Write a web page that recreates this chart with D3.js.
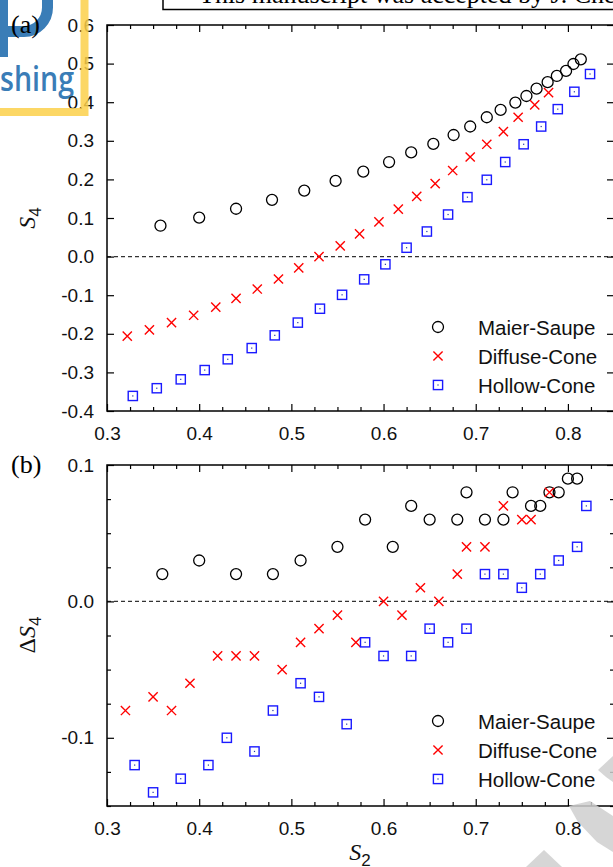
<!DOCTYPE html>
<html>
<head>
<meta charset="utf-8">
<script src="https://cdn.jsdelivr.net/npm/d3@7"></script>
<style>
  html, body { margin: 0; padding: 0; background: #fff; }
  svg { display: block; }
</style>
</head>
<body>
<div id="chart"></div>
<script>
// ---------- data ----------
// Panel (a): order parameter S4 versus S2 for three distribution models
const msA_S2 = [0.358, 0.400, 0.440, 0.479, 0.514, 0.548, 0.578, 0.606, 0.630, 0.654, 0.676, 0.694, 0.712, 0.727, 0.743, 0.755, 0.766, 0.778, 0.788, 0.798, 0.806, 0.814];
const msA_S4 = [0.080, 0.101, 0.124, 0.147, 0.171, 0.196, 0.220, 0.245, 0.270, 0.292, 0.315, 0.337, 0.361, 0.380, 0.399, 0.416, 0.435, 0.452, 0.468, 0.481, 0.499, 0.511];

const dcA_S2 = [0.322, 0.346, 0.370, 0.394, 0.418, 0.440, 0.463, 0.486, 0.508, 0.530, 0.553, 0.574, 0.595, 0.616, 0.636, 0.656, 0.675, 0.694, 0.712, 0.730, 0.746, 0.764, 0.779];
const dcA_S4 = [-0.206, -0.190, -0.171, -0.152, -0.131, -0.108, -0.084, -0.058, -0.029, 0.000, 0.028, 0.059, 0.090, 0.123, 0.156, 0.189, 0.223, 0.258, 0.291, 0.324, 0.361, 0.393, 0.425];

const hcA_S2 = [0.328, 0.354, 0.380, 0.406, 0.431, 0.457, 0.482, 0.507, 0.531, 0.555, 0.579, 0.602, 0.625, 0.647, 0.670, 0.691, 0.712, 0.732, 0.752, 0.771, 0.789, 0.807, 0.824];
const hcA_S4 = [-0.361, -0.341, -0.318, -0.294, -0.266, -0.237, -0.204, -0.171, -0.135, -0.099, -0.059, -0.020, 0.023, 0.065, 0.109, 0.154, 0.199, 0.245, 0.291, 0.337, 0.382, 0.427, 0.473];

// Panel (b): deviation ΔS4 versus S2
const msB_S2 = [0.36, 0.40, 0.44, 0.48, 0.51, 0.55, 0.58, 0.61, 0.63, 0.65, 0.68, 0.69, 0.71, 0.73, 0.74, 0.76, 0.77, 0.78, 0.79, 0.80, 0.81];
const msB_dS4 = [0.02, 0.03, 0.02, 0.02, 0.03, 0.04, 0.06, 0.04, 0.07, 0.06, 0.06, 0.08, 0.06, 0.06, 0.08, 0.07, 0.07, 0.08, 0.08, 0.09, 0.09];

const dcB_S2 = [0.32, 0.35, 0.37, 0.39, 0.42, 0.44, 0.46, 0.49, 0.51, 0.53, 0.55, 0.57, 0.60, 0.62, 0.64, 0.66, 0.68, 0.69, 0.71, 0.73, 0.75, 0.76, 0.78];
const dcB_dS4 = [-0.08, -0.07, -0.08, -0.06, -0.04, -0.04, -0.04, -0.05, -0.03, -0.02, -0.01, -0.03, 0.00, -0.01, 0.01, 0.00, 0.02, 0.04, 0.04, 0.07, 0.06, 0.06, 0.08];

const hcB_S2 = [0.33, 0.35, 0.38, 0.41, 0.43, 0.46, 0.48, 0.51, 0.53, 0.56, 0.58, 0.60, 0.63, 0.65, 0.67, 0.69, 0.71, 0.73, 0.75, 0.77, 0.79, 0.81, 0.82];
const hcB_dS4 = [-0.12, -0.14, -0.13, -0.12, -0.10, -0.11, -0.08, -0.06, -0.07, -0.09, -0.03, -0.04, -0.04, -0.02, -0.03, -0.02, 0.02, 0.02, 0.01, 0.02, 0.03, 0.04, 0.07];

const seriesNames = ["Maier-Saupe", "Diffuse-Cone", "Hollow-Cone"];

const xTicks = [0.3, 0.4, 0.5, 0.6, 0.7, 0.8];
const yTicksA = [-0.4, -0.3, -0.2, -0.1, 0.0, 0.1, 0.2, 0.3, 0.4, 0.5, 0.6];
const yTicksB = [-0.1, 0.0, 0.1];

// ---------- setup ----------
const W = 613, H = 867;
const svg = d3.select("#chart").append("svg").attr("width", W).attr("height", H);
const SANS = "'Liberation Sans', Arial, Helvetica, sans-serif";
const SERIF = "'Liberation Serif', 'Times New Roman', serif";

const x = d3.scaleLinear().domain([0.3, 0.85]).range([107, 614]);
const yA = d3.scaleLinear().domain([-0.4, 0.6]).range([411, 25]);
const yB = d3.scaleLinear().domain([-0.15, 0.1]).range([806, 465]);

const xMinor = d3.range(0, 23).map(i => +(0.3 + i * 0.025).toFixed(3)).filter(v => !xTicks.some(t => Math.abs(t - v) < 1e-6));
const yMinorB = d3.range(0, 11).map(i => +(-0.15 + i * 0.025).toFixed(3)).filter(v => !yTicksB.some(t => Math.abs(t - v) < 1e-6));

const fmt = d => (Math.abs(d) < 1e-9 ? 0 : d).toFixed(1);

function styleAxis(g) {
  g.select(".domain").remove();
  g.selectAll(".tick line").attr("stroke", "#000").attr("stroke-width", 1.2);
  g.selectAll(".tick text").attr("font-family", SANS).attr("font-size", 19).attr("fill", "#111");
}

function drawPanel(y, yTicks, yMinor, data) {
  const [x0, x1] = x.range();
  const [yb, yt] = y.range();
  const g = svg.append("g");

  // zero reference line
  g.append("line")
    .attr("x1", x0).attr("x2", x1).attr("y1", y(0)).attr("y2", y(0))
    .attr("stroke", "#333").attr("stroke-width", 1.1).attr("stroke-dasharray", "4,3");

  // axes with inward ticks
  g.append("g").attr("transform", `translate(0,${yb})`)
    .call(d3.axisBottom(x).tickValues(xTicks).tickSize(-7).tickPadding(15.5).tickFormat(fmt)).call(styleAxis);
  g.append("g").attr("transform", `translate(0,${yb})`)
    .call(d3.axisBottom(x).tickValues(xMinor).tickSize(-4).tickFormat("")).call(styleAxis);
  g.append("g").attr("transform", `translate(0,${yt})`)
    .call(d3.axisTop(x).tickValues(xTicks).tickSize(-7).tickFormat("")).call(styleAxis);
  g.append("g").attr("transform", `translate(0,${yt})`)
    .call(d3.axisTop(x).tickValues(xMinor).tickSize(-4).tickFormat("")).call(styleAxis);

  g.append("g").attr("transform", `translate(${x0},0)`)
    .call(d3.axisLeft(y).tickValues(yTicks).tickSize(-7).tickPadding(13).tickFormat(fmt)).call(styleAxis);
  g.append("g").attr("transform", `translate(${x1},0)`)
    .call(d3.axisRight(y).tickValues(yTicks).tickSize(-7).tickFormat("")).call(styleAxis);
  if (yMinor.length) {
    g.append("g").attr("transform", `translate(${x0},0)`)
      .call(d3.axisLeft(y).tickValues(yMinor).tickSize(-4).tickFormat("")).call(styleAxis);
    g.append("g").attr("transform", `translate(${x1},0)`)
      .call(d3.axisRight(y).tickValues(yMinor).tickSize(-4).tickFormat("")).call(styleAxis);
  }

  // frame
  g.append("rect").attr("x", x0).attr("y", yt).attr("width", x1 - x0).attr("height", yb - yt)
    .attr("fill", "none").attr("stroke", "#000").attr("stroke-width", 1.5);

  // markers
  const [ms, dc, hc] = data;
  g.append("g").selectAll("circle").data(d3.zip(ms[0], ms[1])).join("circle")
    .attr("cx", d => x(d[0])).attr("cy", d => y(d[1])).attr("r", 5.5)
    .attr("fill", "none").attr("stroke", "#000").attr("stroke-width", 1.3);
  g.append("g").selectAll("path").data(d3.zip(dc[0], dc[1])).join("path")
    .attr("d", d => crossPath(x(d[0]), y(d[1])))
    .attr("fill", "none").attr("stroke", "#ff0000").attr("stroke-width", 1.4);
  const sq = g.append("g").selectAll("g").data(d3.zip(hc[0], hc[1])).join("g")
    .attr("transform", d => `translate(${x(d[0])},${y(d[1])})`);
  drawSquare(sq);
  return g;
}

function crossPath(cx, cy) {
  const s = 4.6;
  return `M${cx - s},${cy - s}L${cx + s},${cy + s}M${cx - s},${cy + s}L${cx + s},${cy - s}`;
}
function drawSquare(sel) {
  sel.append("rect").attr("x", -4.6).attr("y", -4.6).attr("width", 9.2).attr("height", 9.2)
    .attr("fill", "none").attr("stroke", "#1a1aff").attr("stroke-width", 1.4);
  sel.append("rect").attr("x", -0.6).attr("y", -0.6).attr("width", 1.2).attr("height", 1.2)
    .attr("fill", "#2233aa");
}

function drawLegend(x0, ys) {
  const g = svg.append("g");
  g.append("circle").attr("cx", x0).attr("cy", ys[0]).attr("r", 5.5)
    .attr("fill", "none").attr("stroke", "#000").attr("stroke-width", 1.3);
  g.append("path").attr("d", crossPath(x0, ys[1]))
    .attr("fill", "none").attr("stroke", "#ff0000").attr("stroke-width", 1.4);
  drawSquare(g.append("g").attr("transform", `translate(${x0},${ys[2]})`));
  seriesNames.forEach((n, i) => {
    g.append("text").attr("x", x0 + 40).attr("y", ys[i] + 7.5)
      .attr("font-family", SANS).attr("font-size", 20.5).attr("fill", "#111").text(n);
  });
}

// ---------- header remnants ----------
svg.append("rect").attr("x", 163).attr("y", -40).attr("width", 480).attr("height", 49.5)
  .attr("fill", "none").attr("stroke", "#000").attr("stroke-width", 1.5);
svg.append("text").attr("x", 199).attr("y", 2.5)
  .attr("font-family", SERIF).attr("font-size", 26).attr("fill", "#000")
  .text("This manuscript was accepted by J. Chem. Phys.");

// publisher logo fragment
const logo = svg.append("g");
const logoBlue = "#3a7db7";
logo.append("rect").attr("x", -6).attr("y", -10).attr("width", 14).attr("height", 67).attr("fill", logoBlue);
logo.append("path").attr("d", "M8,31.5 H24 A 24 24 0 0 0 47.5,7.5 V -10")
  .attr("fill", "none").attr("stroke", logoBlue).attr("stroke-width", 11);
logo.append("text").attr("x", 0).attr("y", 91)
  .attr("font-family", "'Open Sans', 'Noto Sans', sans-serif").attr("font-size", 35)
  .attr("font-weight", 600).attr("fill", logoBlue)
  .attr("textLength", 74).attr("lengthAdjust", "spacingAndGlyphs").text("shing");

// ---------- panels ----------
drawPanel(yA, yTicksA, [], [[msA_S2, msA_S4], [dcA_S2, dcA_S4], [hcA_S2, hcA_S4]]);
drawPanel(yB, yTicksB, yMinorB, [[msB_S2, msB_dS4], [dcB_S2, dcB_dS4], [hcB_S2, hcB_dS4]]);

drawLegend(438, [327, 356, 385]);
drawLegend(438, [721, 750, 779]);

// panel tags
svg.append("text").attr("x", 11).attr("y", 33).attr("font-family", SERIF).attr("font-size", 26).text("(a)");
svg.append("text").attr("x", 11).attr("y", 473).attr("font-family", SERIF).attr("font-size", 26).text("(b)");

// axis titles
function yTitle(cx, cy, delta) {
  const t = svg.append("text").attr("transform", `translate(${cx},${cy}) rotate(-90)`)
    .attr("text-anchor", "middle").attr("font-family", SERIF).attr("font-size", 24).attr("fill", "#111");
  if (delta) t.append("tspan").attr("font-style", "normal").text("Δ");
  t.append("tspan").attr("font-style", "italic").text("S");
  t.append("tspan").attr("font-family", SANS).attr("font-size", 17).attr("dy", 6).text("4");
}
yTitle(35, 218, false);
yTitle(35, 635, true);

const xt = svg.append("text").attr("x", 360).attr("y", 860).attr("text-anchor", "middle")
  .attr("font-family", SERIF).attr("font-size", 24).attr("fill", "#111");
xt.append("tspan").attr("font-style", "italic").text("S");
xt.append("tspan").attr("font-family", SANS).attr("font-size", 17).attr("dy", 6).text("2");

// yellow logo border (over the tick labels)
svg.append("path").attr("d", "M0,112 H84.5 V0")
  .attr("fill", "none").attr("stroke", "#fcd04a").attr("stroke-width", 8).attr("opacity", 0.85);

// watermark fragments in the lower right corner
const wm = svg.append("g").attr("fill", "#cfcfcf").attr("opacity", 0.85);
wm.append("polygon").attr("points", "598,770 613,756 613,782 606,777");
wm.append("polygon").attr("points", "569,806 590,801 613,816 613,852 597,842 578,822");
wm.append("polygon").attr("points", "526,867 544,850 562,867");
</script>
</body>
</html>
